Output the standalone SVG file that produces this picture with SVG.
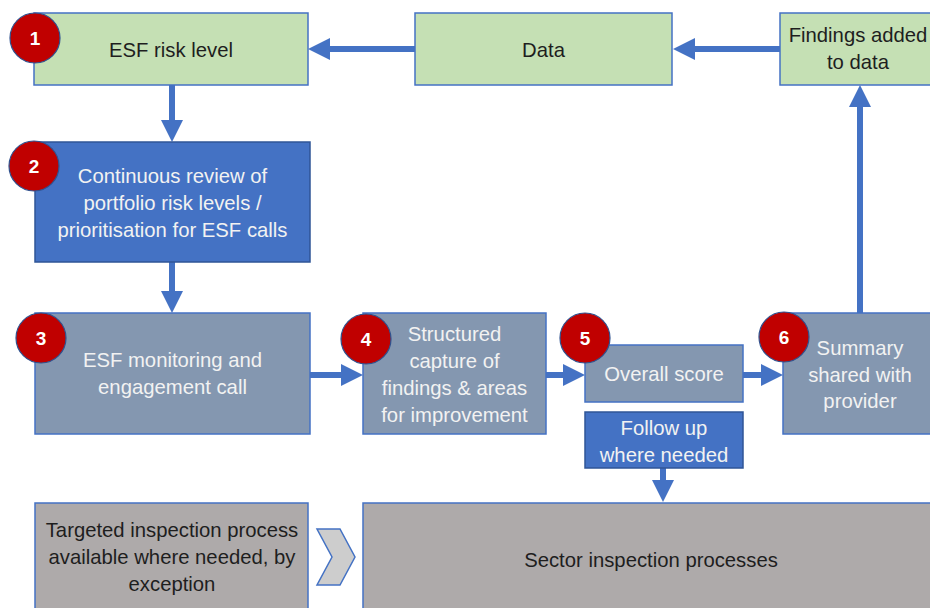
<svg xmlns="http://www.w3.org/2000/svg" width="930" height="608" viewBox="0 0 930 608">
<defs>
<style>
.green{fill:#C5E0B4;stroke:#4472C4;stroke-width:1.5}
.blue{fill:#4472C4;stroke:#2F5597;stroke-width:1.5}
.slate{fill:#8497B0;stroke:#4472C4;stroke-width:1.5}
.grey{fill:#AEAAAA;stroke:#4472C4;stroke-width:1.5}
.badge{fill:#C00000;stroke:#2F528F;stroke-width:1.2}
.bt{font-family:"Liberation Sans",Arial,sans-serif;font-size:19px;font-weight:bold;fill:#FFFFFF;text-anchor:middle}
.t{font-family:"Liberation Sans",Arial,sans-serif;font-size:20.3px;text-anchor:middle}
.dark{fill:#1E1E1E}
.light{fill:#F2F2F2}
.conn{stroke:#4472C4;stroke-width:6;fill:none}
</style>
<marker id="ah" markerUnits="userSpaceOnUse" markerWidth="22" markerHeight="22" refX="12" refY="11" orient="auto">
<path d="M0,0 L22,11 L0,22 z" fill="#4472C4"/>
</marker>
</defs>
<rect width="930" height="608" fill="#FFFFFF"/>

<g id="connectors">
<line class="conn" x1="415" y1="49" x2="318" y2="49" marker-end="url(#ah)"/>
<line class="conn" x1="780" y1="49" x2="683" y2="49" marker-end="url(#ah)"/>
<line class="conn" x1="172" y1="85" x2="172" y2="132" marker-end="url(#ah)"/>
<line class="conn" x1="172" y1="262" x2="172" y2="303" marker-end="url(#ah)"/>
<line class="conn" x1="310" y1="375" x2="353" y2="375" marker-end="url(#ah)"/>
<line class="conn" x1="546" y1="375" x2="575" y2="375" marker-end="url(#ah)"/>
<line class="conn" x1="743" y1="375" x2="773" y2="375" marker-end="url(#ah)"/>
<line class="conn" x1="860" y1="313" x2="860" y2="95" marker-end="url(#ah)"/>
<line class="conn" x1="663" y1="468" x2="663" y2="492" marker-end="url(#ah)"/>
</g>

<g id="node1">
<rect class="green" x="34" y="13" width="274" height="72"/>
<text class="t dark" x="171" y="57">ESF risk level</text>
<circle class="badge" cx="35" cy="38" r="25"/>
<text class="bt" x="35" y="45">1</text>
</g>

<g id="data">
<rect class="green" x="415" y="13" width="257" height="72"/>
<text class="t dark" x="543.5" y="57">Data</text>
</g>

<g id="findings">
<rect class="green" x="780" y="13" width="156" height="72"/>
<text class="t dark" x="858" y="42">Findings added</text>
<text class="t dark" x="858" y="69">to data</text>
</g>

<g id="node2">
<rect class="blue" x="35" y="142" width="275" height="120"/>
<text class="t light" x="172.5" y="183">Continuous review of</text>
<text class="t light" x="172.5" y="210">portfolio risk levels /</text>
<text class="t light" x="172.5" y="237">prioritisation for ESF calls</text>
<circle class="badge" cx="34" cy="166" r="25"/>
<text class="bt" x="34" y="173">2</text>
</g>

<g id="node3">
<rect class="slate" x="35" y="313" width="275" height="121"/>
<text class="t light" x="172.5" y="367">ESF monitoring and</text>
<text class="t light" x="172.5" y="394">engagement call</text>
<circle class="badge" cx="41" cy="338" r="25"/>
<text class="bt" x="41" y="345">3</text>
</g>

<g id="node4">
<rect class="slate" x="363" y="313" width="183" height="121"/>
<text class="t light" x="454.5" y="341">Structured</text>
<text class="t light" x="454.5" y="368">capture of</text>
<text class="t light" x="454.5" y="395">findings &amp; areas</text>
<text class="t light" x="454.5" y="422">for improvement</text>
<circle class="badge" cx="366" cy="339" r="25"/>
<text class="bt" x="366" y="346">4</text>
</g>

<g id="node5">
<rect class="slate" x="585" y="345" width="158" height="57"/>
<text class="t light" x="664" y="381">Overall score</text>
<circle class="badge" cx="585" cy="338" r="25"/>
<text class="bt" x="585" y="345">5</text>
</g>

<g id="followup">
<rect class="blue" x="585" y="412" width="158" height="56"/>
<text class="t light" x="664" y="435">Follow up</text>
<text class="t light" x="664" y="462">where needed</text>
</g>

<g id="node6">
<rect class="slate" x="783" y="313" width="154" height="121"/>
<text class="t light" x="860" y="355">Summary</text>
<text class="t light" x="860" y="382">shared with</text>
<text class="t light" x="860" y="408">provider</text>
<circle class="badge" cx="784" cy="337" r="25"/>
<text class="bt" x="784" y="344">6</text>
</g>

<g id="targeted">
<rect class="grey" x="35" y="503" width="273" height="110"/>
<text class="t dark" x="172" y="537">Targeted inspection process</text>
<text class="t dark" x="172" y="564">available where needed, by</text>
<text class="t dark" x="172" y="591">exception</text>
</g>

<g id="chevron">
<polygon points="317,529 340,529 355,557 340,585 317,585 332,557" fill="#CDCDCD" stroke="#4472C4" stroke-width="1.5"/>
</g>

<g id="sector">
<rect class="grey" x="363" y="503" width="576" height="110"/>
<text class="t dark" x="651" y="567">Sector inspection processes</text>
</g>
</svg>
